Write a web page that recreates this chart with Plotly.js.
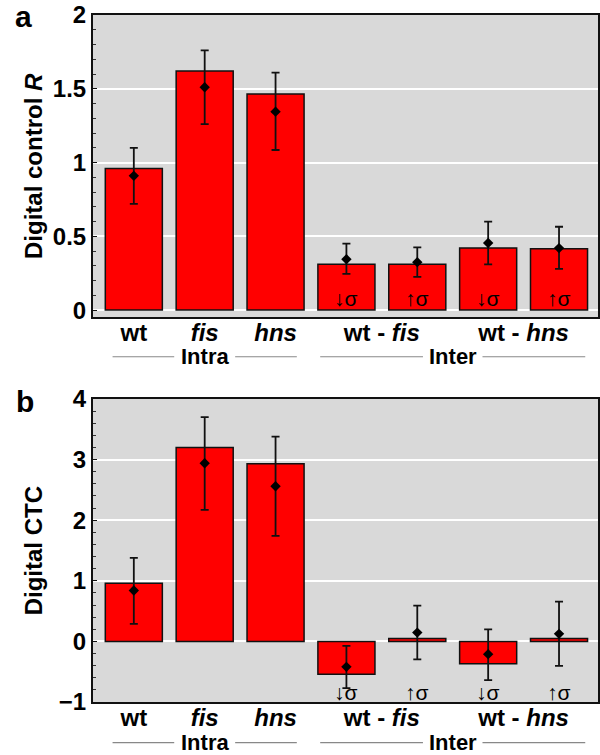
<!DOCTYPE html>
<html>
<head>
<meta charset="utf-8">
<script src="https://cdn.plot.ly/plotly-3.0.1.min.js"></script>
<style>html,body{margin:0;padding:0;background:#fff;}#chart{width:600px;height:755px;}</style>
</head>
<body>
<div id="chart"></div>
<script>
// Categories (positions 0..6) and tick labels
var categories = ['wt', 'fis', 'hns', 'wt-fis ↓σ', 'wt-fis ↑σ', 'wt-hns ↓σ', 'wt-hns ↑σ'];
var sigmaLabels = ['', '', '', '↓σ', '↑σ', '↓σ', '↑σ'];
var tickPos = [0, 1, 2, 3.5, 5.5];
var tickText = ['wt', '<i>fis</i>', '<i>hns</i>', 'wt - <i>fis</i>', 'wt - <i>hns</i>'];

// Panel a: Digital control R
var barR  = [0.96, 1.62, 1.465, 0.31, 0.31, 0.42, 0.415];
var meanR = [0.91, 1.51, 1.345, 0.345, 0.325, 0.455, 0.42];
var hiR   = [1.10, 1.76, 1.61, 0.45, 0.425, 0.60, 0.565];
var loR   = [0.72, 1.26, 1.085, 0.245, 0.225, 0.31, 0.28];

// Panel b: Digital CTC
var barC  = [0.96, 3.20, 2.93, -0.54, 0.05, -0.37, 0.05];
var meanC = [0.84, 2.94, 2.56, -0.42, 0.145, -0.21, 0.125];
var hiC   = [1.38, 3.70, 3.38, -0.075, 0.59, 0.20, 0.655];
var loC   = [0.29, 2.17, 1.74, -0.77, -0.295, -0.64, -0.405];

var xIdx = categories.map(function (c, i) { return i; });
function diff(a, b) { return a.map(function (v, i) { return v - b[i]; }); }

var FONT = '"Liberation Sans", Arial, Helvetica, sans-serif';

function barTrace(y, ya) {
  return {
    type: 'bar', x: xIdx, y: y, xaxis: 'x' + (ya === 'y' ? '' : '2'), yaxis: ya,
    width: 0.805,
    marker: { color: '#ff0000', line: { color: '#111', width: 1.5 } },
    hoverinfo: 'skip', showlegend: false
  };
}
function ptTrace(mean, hi, lo, ya) {
  return {
    type: 'scatter', mode: 'markers', x: xIdx, y: mean, xaxis: 'x' + (ya === 'y' ? '' : '2'), yaxis: ya,
    marker: { symbol: 'diamond', size: 8, color: '#000' },
    error_y: { type: 'data', symmetric: false, array: diff(hi, mean), arrayminus: diff(mean, lo),
               color: '#111', thickness: 1.8, width: 4 },
    hoverinfo: 'skip', showlegend: false
  };
}

var data = [
  barTrace(barR, 'y'), ptTrace(meanR, hiR, loR, 'y'),
  barTrace(barC, 'y2'), ptTrace(meanC, hiC, loC, 'y2')
];

function xax(anchor) {
  return {
    anchor: anchor, domain: [0, 1], range: [-0.576, 6.55],
    tickmode: 'array', tickvals: tickPos, ticktext: tickText,
    ticks: '', showgrid: false, zeroline: false,
    showline: true, mirror: true, linecolor: '#111', linewidth: 2,
    tickfont: { family: FONT, size: 24, color: '#000', weight: 'bold' },
    ticklabelstandoff: -7, fixedrange: true
  };
}
function yax(anchor, domain, range, dtick, minorDtick) {
  return {
    anchor: anchor, domain: domain, range: range, dtick: dtick, tick0: 0,
    ticks: 'inside', ticklen: 4, tickcolor: '#111', tickwidth: 1,
    minor: { dtick: minorDtick, ticks: 'inside', ticklen: 3, tickcolor: '#333', showgrid: false },
    showgrid: true, gridcolor: '#ffffff', gridwidth: 2, zeroline: false,
    showline: true, mirror: true, linecolor: '#111', linewidth: 2,
    tickfont: { family: FONT, size: 24, color: '#000', weight: 'bold' },
    ticklabelstandoff: 0, fixedrange: true
  };
}

var annotations = [];
function addText(x, y, xref, yref, text, size, weight, angle) {
  annotations.push({ x: x, y: y, xref: xref, yref: yref, text: text, showarrow: false,
    textangle: angle || 0, xanchor: 'center', yanchor: 'middle',
    font: { family: FONT, size: size, color: '#000', weight: weight || 'normal' } });
}
// panel letters
addText(-0.137, 0.978, 'paper', 'paper', 'a', 30, 'bold');
addText(-0.134, 0.468, 'paper', 'paper', 'b', 30, 'bold');
// y titles
addText(-0.119, 0.780, 'paper', 'paper', 'Digital control <i>R</i>', 24, 'bold', -90);
addText(-0.119, 0.271, 'paper', 'paper', 'Digital CTC', 24, 'bold', -90);
// sigma labels
sigmaLabels.forEach(function (s, i) {
  if (!s) return;
  addText(i, 0.08, 'x', 'y', s, 21, 'normal');
  addText(i, -0.85, 'x2', 'y2', s, 21, 'normal');
});
// group labels
var groups = [{ name: 'Intra', c: 1.0, gap: 0.43, half: 1.3 }, { name: 'Inter', c: 4.5, gap: 0.42, half: 1.87 }];
var groupRowY = [0.5275, 0.0165];
var shapes = [];
[['x', 0], ['x2', 1]].forEach(function (p) {
  groups.forEach(function (g) {
    addText(g.c, groupRowY[p[1]], p[0], 'paper', g.name, 22, 'bold');
    shapes.push({ type: 'line', xref: p[0], yref: 'paper', x0: g.c - g.half, x1: g.c - g.gap,
      y0: groupRowY[p[1]], y1: groupRowY[p[1]], line: { color: '#888', width: 1.2 } });
    shapes.push({ type: 'line', xref: p[0], yref: 'paper', x0: g.c + g.gap, x1: g.c + g.half,
      y0: groupRowY[p[1]], y1: groupRowY[p[1]], line: { color: '#888', width: 1.2 } });
  });
});

var layout = {
  width: 600, height: 755,
  margin: { l: 93, r: 2, t: 0, b: 0 },
  paper_bgcolor: '#ffffff', plot_bgcolor: '#d9d9d9',
  barmode: 'overlay',
  xaxis: xax('y'),
  yaxis: yax('x', [0.5801, 0.9801], [-0.047, 2.0], 0.5, 0.1),
  xaxis2: xax('y2'),
  yaxis2: yax('x2', [0.0702, 0.4715], [-1, 4], 1, 0.2),
  annotations: annotations,
  shapes: shapes,
  font: { family: FONT }
};

Plotly.newPlot('chart', data, layout, { staticPlot: true, displayModeBar: false });
</script>
</body>
</html>
